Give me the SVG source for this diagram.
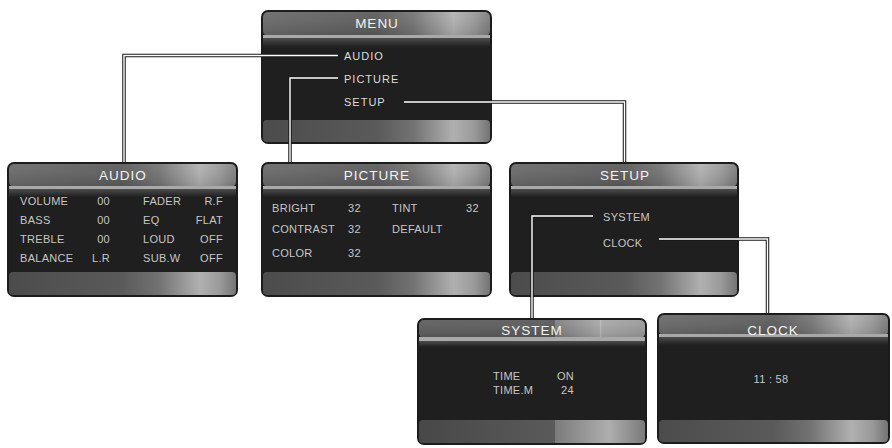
<svg xmlns="http://www.w3.org/2000/svg" width="892" height="448" viewBox="0 0 892 448">
<defs>
<linearGradient id="gTitle" x1="0" y1="0" x2="1" y2="0">
<stop offset="0" stop-color="#6a6a6a"/>
<stop offset="0.5" stop-color="#5c5c5c"/>
<stop offset="0.66" stop-color="#747474"/>
<stop offset="0.84" stop-color="#b2b2b2"/>
<stop offset="0.93" stop-color="#9a9a9a"/>
<stop offset="1" stop-color="#7c7c7c"/>
</linearGradient>
<linearGradient id="gTitleSys" x1="0" y1="0" x2="1" y2="0">
<stop offset="0" stop-color="#5e5e5e"/>
<stop offset="0.6" stop-color="#5a5a5a"/>
<stop offset="0.6" stop-color="#7e7e7e"/>
<stop offset="0.8" stop-color="#a8a8a8"/>
<stop offset="0.8" stop-color="#c4c4c4"/>
<stop offset="0.81" stop-color="#a8a8a8"/>
<stop offset="1" stop-color="#9a9a9a"/>
</linearGradient>
<linearGradient id="gShade" x1="0" y1="0" x2="0" y2="1">
<stop offset="0" stop-color="#ffffff" stop-opacity="0.06"/>
<stop offset="1" stop-color="#000000" stop-opacity="0.12"/>
</linearGradient>
<linearGradient id="gBand" x1="0" y1="0" x2="0" y2="1">
<stop offset="0" stop-color="#4c4c4c"/>
<stop offset="1" stop-color="#1f1f1f"/>
</linearGradient>
<linearGradient id="gBottom" x1="0" y1="0" x2="1" y2="0">
<stop offset="0" stop-color="#4c4c4c"/>
<stop offset="0.5" stop-color="#5a5a5a"/>
<stop offset="0.66" stop-color="#727272"/>
<stop offset="0.84" stop-color="#b0b0b0"/>
<stop offset="0.93" stop-color="#9a9a9a"/>
<stop offset="1" stop-color="#747474"/>
</linearGradient>
<linearGradient id="gBottomSys" x1="0" y1="0" x2="1" y2="0">
<stop offset="0" stop-color="#484848"/>
<stop offset="0.6" stop-color="#5a5a5a"/>
<stop offset="0.6" stop-color="#7a7a7a"/>
<stop offset="0.84" stop-color="#aeaeae"/>
<stop offset="1" stop-color="#7a7a7a"/>
</linearGradient>
<style>
.frame{fill:#1c1c1c;}
.body{fill:#1f1f1f;}
.title{fill:url(#gTitle);}
.titleSys{fill:url(#gTitleSys);}
.shade{fill:url(#gShade);}
.stripe{fill:#a9a9a9;}
.band{fill:url(#gBand);}
.bottom{fill:url(#gBottom);}
.bottomSys{fill:url(#gBottomSys);}
text{font-family:"Liberation Sans",Arial,sans-serif;}
.ttl{font-size:13.5px;fill:#f2f2f2;letter-spacing:1px;text-anchor:middle;}
.item{font-size:11px;fill:#dcdcdc;letter-spacing:1px;}
.lbl{font-size:11px;fill:#c6c6c6;letter-spacing:0.3px;}
.end{text-anchor:end;}
.mid{text-anchor:middle;}
.lineO{fill:none;stroke:#1a1a1a;stroke-width:3.5;}
.lineI{fill:none;stroke:#ffffff;stroke-width:1.4;}
</style>
</defs>
<rect width="892" height="448" fill="#ffffff"/>

<g id="menu">
<rect class="frame" x="261" y="10" width="231" height="134" rx="7"/>
<rect class="body" x="263" y="12" width="227" height="130" rx="5"/>
<rect class="title" x="263" y="12" width="227" height="24" rx="5"/>
<rect class="shade" x="263" y="12" width="227" height="24" rx="5"/>
<rect class="stripe" x="263" y="35" width="227" height="3"/>
<rect class="band" x="263" y="38" width="227" height="9"/>
<rect class="bottom" x="263" y="120" width="227" height="22" rx="4"/>
<text class="ttl" x="377" y="28">MENU</text>
<text class="item" x="344" y="60">AUDIO</text>
<text class="item" x="344" y="83">PICTURE</text>
<text class="item" x="344" y="106">SETUP</text>
</g>

<g id="audio">
<rect class="frame" x="7" y="162" width="231" height="135" rx="7"/>
<rect class="body" x="9" y="164" width="227" height="131" rx="5"/>
<rect class="title" x="9" y="164" width="227" height="23" rx="5"/>
<rect class="shade" x="9" y="164" width="227" height="23" rx="5"/>
<rect class="stripe" x="9" y="186" width="227" height="3"/>
<rect class="band" x="9" y="189" width="227" height="8"/>
<rect class="bottom" x="9" y="272" width="227" height="23" rx="4"/>
<text class="ttl" x="123" y="180">AUDIO</text>
<text class="lbl" x="20" y="205">VOLUME</text>
<text class="lbl end" x="110" y="205">00</text>
<text class="lbl" x="143" y="205">FADER</text>
<text class="lbl end" x="223" y="205">R.F</text>
<text class="lbl" x="20" y="224">BASS</text>
<text class="lbl end" x="110" y="224">00</text>
<text class="lbl" x="143" y="224">EQ</text>
<text class="lbl end" x="223" y="224">FLAT</text>
<text class="lbl" x="20" y="243">TREBLE</text>
<text class="lbl end" x="110" y="243">00</text>
<text class="lbl" x="143" y="243">LOUD</text>
<text class="lbl end" x="223" y="243">OFF</text>
<text class="lbl" x="20" y="262">BALANCE</text>
<text class="lbl end" x="110" y="262">L.R</text>
<text class="lbl" x="143" y="262">SUB.W</text>
<text class="lbl end" x="223" y="262">OFF</text>
</g>

<g id="picture">
<rect class="frame" x="261" y="162" width="231" height="135" rx="7"/>
<rect class="body" x="263" y="164" width="227" height="131" rx="5"/>
<rect class="title" x="263" y="164" width="227" height="23" rx="5"/>
<rect class="shade" x="263" y="164" width="227" height="23" rx="5"/>
<rect class="stripe" x="263" y="186" width="227" height="3"/>
<rect class="band" x="263" y="189" width="227" height="8"/>
<rect class="bottom" x="263" y="272" width="227" height="23" rx="4"/>
<text class="ttl" x="377" y="180">PICTURE</text>
<text class="lbl" x="272" y="212">BRIGHT</text>
<text class="lbl" x="348" y="212">32</text>
<text class="lbl" x="392" y="212">TINT</text>
<text class="lbl" x="466" y="212">32</text>
<text class="lbl" x="272" y="233">CONTRAST</text>
<text class="lbl" x="348" y="233">32</text>
<text class="lbl" x="392" y="233">DEFAULT</text>
<text class="lbl" x="272" y="257">COLOR</text>
<text class="lbl" x="348" y="257">32</text>
</g>

<g id="setup">
<rect class="frame" x="509" y="162" width="230" height="135" rx="7"/>
<rect class="body" x="511" y="164" width="226" height="131" rx="5"/>
<rect class="title" x="511" y="164" width="226" height="23" rx="5"/>
<rect class="shade" x="511" y="164" width="226" height="23" rx="5"/>
<rect class="stripe" x="511" y="186" width="226" height="3"/>
<rect class="band" x="511" y="189" width="226" height="8"/>
<rect class="bottom" x="511" y="272" width="226" height="23" rx="4"/>
<text class="ttl" x="625" y="180">SETUP</text>
<text class="lbl" x="603" y="221">SYSTEM</text>
<text class="lbl" x="603" y="247">CLOCK</text>
</g>

<g id="system">
<rect class="frame" x="417" y="318" width="230" height="127" rx="7"/>
<rect class="body" x="419" y="320" width="226" height="123" rx="5"/>
<rect class="titleSys" x="419" y="320" width="226" height="18" rx="5"/>
<rect class="shade" x="419" y="320" width="226" height="18" rx="5"/>
<rect class="stripe" x="419" y="337" width="226" height="4"/>
<rect class="band" x="419" y="341" width="226" height="6"/>
<rect class="bottomSys" x="419" y="420" width="226" height="23" rx="4"/>
<text class="ttl" x="532" y="335">SYSTEM</text>
<text class="lbl" x="493" y="380">TIME</text>
<text class="lbl" x="557" y="380">ON</text>
<text class="lbl" x="493" y="394">TIME.M</text>
<text class="lbl" x="561" y="394">24</text>
</g>

<g id="clock">
<rect class="frame" x="657" y="313" width="233" height="131" rx="7"/>
<rect class="body" x="659" y="315" width="229" height="127" rx="5"/>
<rect class="title" x="659" y="315" width="229" height="21" rx="5"/>
<rect class="shade" x="659" y="315" width="229" height="21" rx="5"/>
<rect class="stripe" x="659" y="334" width="229" height="3"/>
<rect class="band" x="659" y="337" width="229" height="8"/>
<rect class="bottom" x="659" y="420" width="229" height="22" rx="4"/>
<text class="ttl" x="773" y="335">CLOCK</text>
<text class="lbl mid" x="771" y="383">11 : 58</text>
</g>

<g id="connectors">
<path class="lineO" d="M338,55.5 H124 V162"/>
<path class="lineO" d="M338,78 H290 V162"/>
<path class="lineO" d="M404,102 H624.5 V162"/>
<path class="lineO" d="M593,216 H532 V318"/>
<path class="lineO" d="M659,239 H767.5 V313"/>
<path class="lineI" d="M338,55.5 H124 V162"/>
<path class="lineI" d="M338,78 H290 V162"/>
<path class="lineI" d="M404,102 H624.5 V162"/>
<path class="lineI" d="M593,216 H532 V318"/>
<path class="lineI" d="M659,239 H767.5 V313"/>
</g>
</svg>
